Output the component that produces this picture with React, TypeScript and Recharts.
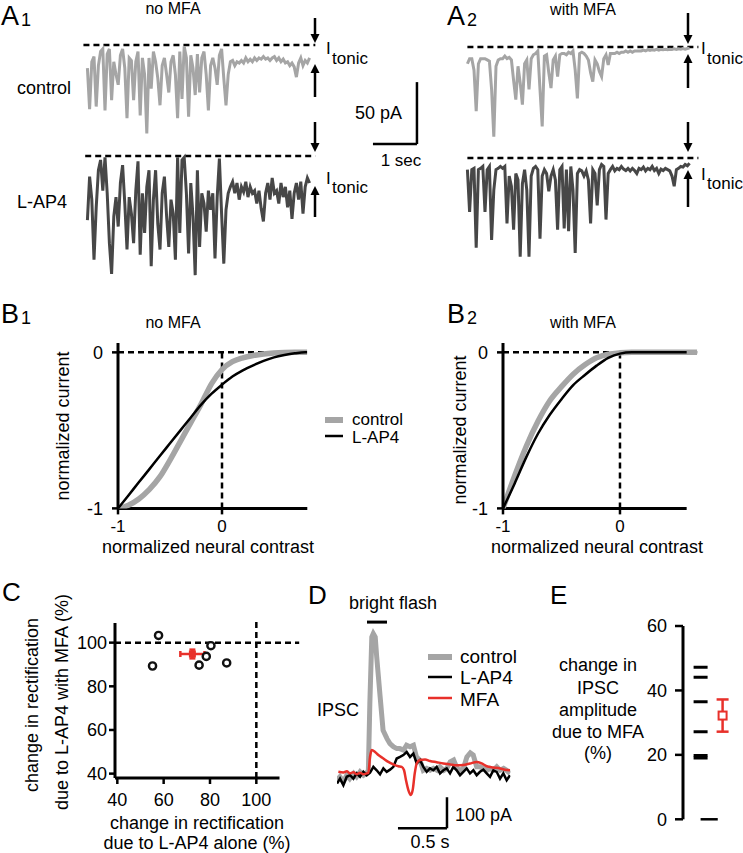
import React from 'react';
import { LineChart, Line, XAxis, YAxis, ReferenceLine, ScatterChart, Scatter, ErrorBar } from 'recharts';

const FONT = '"Liberation Sans", Arial, Helvetica, sans-serif';
const GRAY = '#a5a5a5';
const DARK = '#474747';
const RED = '#e8302a';

// ---------- Panel A: currents (pA, relative to dashed I_tonic line), sampled every 50 ms
const A_DT = 0.05;
const A1_CONTROL = [-18, -50, -13, -9, -48, -16, -5, -3, -51, -7, -3, -43, -13, -23, -31, -8, -3, -18, -57, -10, -12, -43, -13, -5, -55, -10, -23, -69, -10, -34, -5, -13, -26, -47, -16, -10, -23, -37, -13, -8, -23, -57, -5, -42, -1, -10, -56, -8, -18, -39, -7, -37, -10, -5, -23, -51, -16, -10, -18, -31, -8, -3, -26, -47, -23, -13, -12, -16, -13, -14, -12, -14, -10, -13, -11, -13, -10, -12, -10, -11, -9, -11, -10, -12, -10, -9, -12, -10, -13, -11, -14, -13, -16, -14, -17, -25, -14, -10, -16, -12, -14, -10];
const A1_LAP4 = [-50, -16, -34, -81, -40, -11, -3, -27, -1, -29, -68, -92, -47, -32, -55, -21, -7, -37, -73, -32, -45, -68, -27, -4, -77, -29, -60, -24, -11, -86, -34, -11, -53, -73, -29, -16, -47, -71, -34, -45, -81, -1, -60, -3, -1, -29, -76, -21, -47, -93, -11, -71, -29, -37, -59, -27, -42, -29, -80, -32, -2, -45, -84, -42, -29, -24, -20, -29, -21, -34, -24, -28, -20, -32, -24, -29, -27, -37, -27, -41, -51, -29, -21, -34, -17, -29, -27, -37, -21, -32, -24, -40, -27, -49, -29, -21, -34, -20, -45, -24, -17, -21];
const A2_CONTROL = [-13, -9, -9, -18, -50, -13, -9, -9, -9, -10, -11, -33, -70, -15, -10, -9, -9, -7, -9, -8, -10, -26, -41, -15, -28, -45, -13, -10, -33, -9, -6, -5, -3, -33, -62, -7, -6, -20, -32, -10, -7, -23, -6, -5, -5, -6, -4, -5, -3, -18, -40, -5, -4, -5, -7, -10, -20, -27, -10, -13, -19, -23, -9, -6, -14, -5, -5, -5, -4, -5, -4, -4, -3, -4, -3, -4, -3, -3, -3, -3, -2.4, -3, -2, -2.6, -2, -2.4, -1.8, -2.4, -1.8, -2, -1.6, -2, -1.6, -1.8, -1.3, -1.8, -1.3, -1.6, -1.1, -1.6, -1.1, -0.8];
const A2_LAP4 = [-9, -42, -9, -8, -70, -9, -8, -6.5, -42, -9, -6.5, -64, -25, -9, -8, -6.5, -8, -6.5, -51, -14, -22, -56, -12, -17, -77, -20, -9, -25, -77, -14, -8, -6.5, -9, -63, -14, -9, -12, -26, -14, -9, -17, -56, -9, -6.5, -55, -9, -57, -6.5, -25, -74, -12, -9, -10, -14, -10, -17, -51, -9, -12, -37, -9, -5, -6.5, -48, -12, -9, -6.5, -10, -8, -9, -6.5, -8.6, -9.7, -8, -10, -8, -9.7, -12, -8, -9, -7, -10, -8, -9, -6.5, -9.7, -8, -12, -8.6, -9.7, -8, -9, -10, -14, -22, -9, -8, -6.5, -7, -5, -6, -4];

// ---------- Panel B: normalized current vs normalized neural contrast
const B1_X = [-1, -0.9, -0.8, -0.7, -0.6, -0.5, -0.4, -0.3, -0.2, -0.1, 0, 0.1, 0.2, 0.3, 0.4, 0.5, 0.6, 0.7, 0.8, 0.82];
const B1_CONTROL = [-1, -0.98, -0.94, -0.88, -0.8, -0.69, -0.57, -0.45, -0.33, -0.2, -0.11, -0.06, -0.035, -0.02, -0.01, -0.004, -0.001, 0, 0, 0];
const B1_LAP4 = [-1, -0.917, -0.833, -0.75, -0.666, -0.583, -0.5, -0.417, -0.335, -0.265, -0.207, -0.155, -0.115, -0.083, -0.055, -0.032, -0.017, -0.006, 0, 0];
const B2_X = [-1, -0.9, -0.8, -0.7, -0.6, -0.5, -0.4, -0.3, -0.2, -0.1, 0, 0.1, 0.2, 0.3, 0.4, 0.5, 0.57, 0.66];
const B2_CONTROL = [-1, -0.79, -0.6, -0.44, -0.31, -0.22, -0.14, -0.08, -0.035, -0.012, -0.003, 0, 0, 0, 0, 0, 0, 0];
const B2_LAP4 = [-1, -0.84, -0.67, -0.52, -0.4, -0.3, -0.21, -0.145, -0.085, -0.035, -0.008, 0, 0, 0, 0, 0, 0];

// ---------- Panel C: change in rectification (%)
const C_ALONE = [57.8, 55.2, 75.3, 78.4, 80.4, 87.2];
const C_WITH_MFA = [103.3, 89.3, 89.7, 93.7, 98.6, 90.7];
const C_MEAN = { x: 72.4, y: 94.8, ex: 5.2, ey: 2 };

// ---------- Panel D: IPSC traces (time in s, current in pA)
const D_CONTROL_T = [0, 0.03, 0.065, 0.1, 0.13, 0.17, 0.2, 0.235, 0.27, 0.3, 0.32, 0.335, 0.355, 0.37, 0.39, 0.405, 0.44, 0.47, 0.51, 0.54, 0.575, 0.61, 0.64, 0.68, 0.71, 0.745, 0.78, 0.81, 0.845, 0.88, 0.915, 0.95, 0.985, 1.02, 1.05, 1.09, 1.12, 1.155, 1.19, 1.225, 1.255, 1.29, 1.325, 1.36, 1.39, 1.425, 1.46, 1.495, 1.53, 1.56, 1.595, 1.63, 1.665, 1.7, 1.73, 1.765];
const D_CONTROL = [0, 11, -5, 16, 5, 22, 11, 27, 16, 22, 32, 247, 462, 473, 462, 398, 269, 161, 134, 118, 108, 102, 102, 97, 113, 108, 113, 75, 65, 32, 38, 32, 38, 32, 43, 32, 38, 59, 65, 38, 32, 38, 75, 88, 81, 43, 43, 38, 32, 38, 32, 43, 32, 38, 32, 22];
const D_LAP4_T = [0, 0.031, 0.065, 0.099, 0.133, 0.167, 0.201, 0.235, 0.269, 0.303, 0.337, 0.371, 0.405, 0.439, 0.473, 0.507, 0.541, 0.575, 0.609, 0.643, 0.677, 0.711, 0.745, 0.779, 0.813, 0.847, 0.881, 0.915, 0.949, 0.983, 1.017, 1.051, 1.085, 1.119, 1.153, 1.187, 1.221, 1.255, 1.289, 1.323, 1.357, 1.391, 1.425, 1.459, 1.493, 1.527, 1.561, 1.595, 1.629, 1.663, 1.697, 1.731, 1.765];
const D_LAP4 = [-11, 5, -16, 11, 16, 5, 22, 11, 27, 16, 24, 43, 32, 19, 38, 27, 34, 43, 70, 75, 81, 91, 75, 86, 54, 65, 43, 27, 38, 32, 43, 22, 32, 38, 22, 43, 32, 16, 27, 38, 22, 32, 16, 27, 34, 22, 11, 32, 27, 5, 22, 0, 16];
const D_MFA_T = [0.014, 0.065, 0.1, 0.133, 0.167, 0.2, 0.235, 0.27, 0.303, 0.32, 0.337, 0.354, 0.388, 0.422, 0.473, 0.524, 0.575, 0.626, 0.66, 0.684, 0.704, 0.728, 0.752, 0.772, 0.793, 0.813, 0.847, 0.898, 0.949, 1.017, 1.085, 1.153, 1.221, 1.289, 1.357, 1.425, 1.476, 1.527, 1.595, 1.663, 1.714, 1.765];
const D_MFA = [27, 25, 29, 22, 26, 19, 24, 19, 22, 24, 75, 97, 91, 81, 70, 59, 51, 45, 43, 32, 0, -32, -48, -32, 22, 54, 65, 67, 62, 58, 54, 51, 48, 49, 54, 59, 54, 45, 41, 38, 34, 32];

// ---------- Panel E: change in IPSC amplitude due to MFA (%)
const E_CELLS = [47.2, 44.1, 36.5, 27.2, 19.8, 19.0];
const E_MEAN = { y: 32.2, e: 5 };

// ---------- helpers
function frame(x: number, y: number, w: number, h: number, pad: any = {}, yw = 0, xh = 0) {
  const l = pad.l ?? 0, r = pad.r ?? 0, t = pad.t ?? 0, b = pad.b ?? 0;
  return { left: x - yw - l, top: y - t, width: w + yw + l + r, height: h + xh + t + b, margin: { left: l, right: r, top: t, bottom: b } };
}

function Txt({ x, y, s = 18, a = 'start', children }: any) {
  const tx = a === 'start' ? '0%' : a === 'middle' ? '-50%' : '-100%';
  return (
    <div style={{ position: 'absolute', left: x, top: y, fontSize: s, lineHeight: 1, whiteSpace: 'nowrap', fontFamily: FONT, color: '#000',
      transform: `translate(${tx},-50%)` }}>{children}</div>
  );
}

function RotTxt({ x, y, s = 18, children }: any) {
  return (
    <div style={{ position: 'absolute', left: x, top: y, fontSize: s, lineHeight: 1, whiteSpace: 'nowrap', fontFamily: FONT, color: '#000',
      transform: 'translate(-50%,-50%) rotate(-90deg)' }}>{children}</div>
  );
}

const dash = { stroke: '#000', strokeWidth: 2.5, strokeDasharray: '6 4' };
const solid = { stroke: '#000', strokeWidth: 2.5 };
const tickFont = { fill: '#000', fontSize: 18, fontFamily: FONT };
const axisStyle = { stroke: '#000', strokeWidth: 3 };

function Trace({ f, values, color, domX, domY, children }: any) {
  const data = values.map((v: number, i: number) => ({ t: Math.round(i * A_DT * 1000) / 1000, v }));
  return (
    <div style={{ position: 'absolute', left: f.left, top: f.top }}>
      <LineChart width={f.width} height={f.height} margin={f.margin} data={data}>
        <XAxis dataKey="t" type="number" domain={domX} hide allowDataOverflow />
        <YAxis type="number" domain={domY} hide allowDataOverflow />
        {children}
        <Line dataKey="v" stroke={color} strokeWidth={3} dot={false} type="linear" isAnimationActive={false} />
      </LineChart>
    </div>
  );
}

function BPanel({ f, domX, xs, control, lap4, axisEnd, dashEnd }: any) {
  const cData = control.map((y: number, i: number) => ({ x: xs[i], y }));
  const lData = lap4.map((y: number, i: number) => ({ x: xs[i], y }));
  return (
    <div style={{ position: 'absolute', left: f.left, top: f.top }}>
      <LineChart width={f.width} height={f.height} margin={f.margin}>
        <XAxis dataKey="x" type="number" domain={domX} ticks={[-1, 0]} allowDataOverflow height={30} tickSize={6} tickMargin={6}
          axisLine={false} tickLine={{ stroke: '#000', strokeWidth: 2.5 }} tick={{ ...tickFont, fontSize: 17 }} />
        <YAxis type="number" domain={[-1, 0.06]} ticks={[-1, 0]} allowDataOverflow width={36} tickSize={6} tickMargin={9}
          axisLine={axisStyle} tickLine={{ stroke: '#000', strokeWidth: 2.5 }} tick={tickFont} />
        <ReferenceLine segment={[{ x: domX[0], y: -1 }, { x: axisEnd, y: -1 }]} stroke="#000" strokeWidth={3} ifOverflow="visible" />
        <ReferenceLine segment={[{ x: -1, y: 0 }, { x: dashEnd, y: 0 }]} {...dash} ifOverflow="visible" />
        <ReferenceLine segment={[{ x: 0, y: -1 }, { x: 0, y: 0 }]} {...dash} ifOverflow="visible" />
        <Line data={cData} dataKey="y" stroke={GRAY} strokeWidth={5.5} dot={false} type="monotone" isAnimationActive={false} />
        <Line data={lData} dataKey="y" stroke="#000" strokeWidth={2.5} dot={false} type="monotone" isAnimationActive={false} />
      </LineChart>
    </div>
  );
}

const openCircle = (p: any) => <circle cx={p.cx} cy={p.cy} r={3.6} fill="#fff" stroke="#111" strokeWidth={2.4} />;
const redDot = (p: any) => <rect x={p.cx - 3.5} y={p.cy - 3.5} width={7} height={7} fill={RED} />;
const hDash = (p: any) => <line x1={p.cx - 7} x2={p.cx + 7} y1={p.cy} y2={p.cy} stroke="#000" strokeWidth={3} />;
const openSquare = (p: any) => <rect x={p.cx - 4} y={p.cy - 4} width={8} height={8} fill="#fff" stroke={RED} strokeWidth={2} />;

function Arrow({ x, from, to }: { x: number; from: number; to: number }) {
  const dir = to > from ? 1 : -1;
  const base = to - dir * 9;
  return (
    <g>
      <line x1={x} x2={x} y1={from} y2={base} stroke="#000" strokeWidth={2.5} />
      <polygon points={`${x - 4.5},${base} ${x + 4.5},${base} ${x},${to}`} fill="#000" />
    </g>
  );
}

export default function App() {
  const fA1c = frame(82.6, 39.88, 338.8, 110.08);
  const fA1l = frame(82.6, 150.88, 237.6, 133.12);
  const fA2c = frame(462.6, 42.18, 237.6, 101.12);
  const fA2l = frame(462.6, 153.18, 237.6, 107.52);
  const fB1 = frame(118, 342.6, 189.3, 165.4, { l: 2, r: 4, t: 3, b: 2 }, 36, 30);
  const fB2 = frame(503, 342.6, 194.2, 165.4, { l: 2, r: 4, t: 3, b: 2 }, 36, 30);
  const fC = frame(114.7, 622.6, 164.5, 155, { l: 4, r: 26, t: 8, b: 4 }, 45, 34);
  const fD = frame(337, 618.8, 173.5, 213.9, { l: 4, r: 4, t: 4, b: 4 });
  const fE = frame(682.7, 626, 57.2, 193.3, { l: 4, r: 2, t: 12, b: 12 }, 40, 0);

  const cData = C_ALONE.map((x, i) => ({ x, y: C_WITH_MFA[i] }));
  const dControl = D_CONTROL.map((v, i) => ({ t: D_CONTROL_T[i], v }));
  const dLap4 = D_LAP4.map((v, i) => ({ t: D_LAP4_T[i], v }));
  const dMfa = D_MFA.map((v, i) => ({ t: D_MFA_T[i], v }));
  const eCells = E_CELLS.map((y) => ({ x: 1, y }));

  return (
    <div style={{ position: 'absolute', left: 0, top: 0, width: 743, height: 853, background: '#fff', overflow: 'hidden', fontFamily: FONT }}>
      {/* A1 */}
      <Trace f={fA1c} values={A1_CONTROL} color={GRAY} domX={[-0.1, 7.6]} domY={[-82, 4]}>
        <ReferenceLine segment={[{ x: -0.09, y: 0 }, { x: 5.18, y: 0 }]} {...dash} />
        <ReferenceLine segment={[{ x: 7.49, y: -28.9 }, { x: 7.49, y: -77.3 }]} {...solid} />
        <ReferenceLine segment={[{ x: 6.49, y: -77.3 }, { x: 7.49, y: -77.3 }]} {...solid} />
      </Trace>
      <Trace f={fA1l} values={A1_LAP4} color={DARK} domX={[-0.1, 5.3]} domY={[-100, 4]}>
        <ReferenceLine segment={[{ x: -0.05, y: 0 }, { x: 5.18, y: 0 }]} {...dash} />
      </Trace>
      {/* A2 */}
      <Trace f={fA2c} values={A2_CONTROL} color={GRAY} domX={[-0.1, 5.3]} domY={[-75, 4]}>
        <ReferenceLine segment={[{ x: 0, y: 0 }, { x: 5.25, y: 0 }]} {...dash} />
      </Trace>
      <Trace f={fA2l} values={A2_LAP4} color={DARK} domX={[-0.1, 5.3]} domY={[-80, 4]}>
        <ReferenceLine segment={[{ x: 0, y: 0 }, { x: 5.25, y: 0 }]} {...dash} />
      </Trace>

      {/* B */}
      <BPanel f={fB1} domX={[-1, 0.82]} xs={B1_X} control={B1_CONTROL} lap4={B1_LAP4} axisEnd={0.82} dashEnd={0.8} />
      <BPanel f={fB2} domX={[-1, 0.66]} xs={B2_X} control={B2_CONTROL} lap4={B2_LAP4} axisEnd={0.57} dashEnd={0.66} />

      {/* C */}
      <div style={{ position: 'absolute', left: fC.left, top: fC.top }}>
        <ScatterChart width={fC.width} height={fC.height} margin={fC.margin}>
          <XAxis type="number" dataKey="x" domain={[39, 110]} ticks={[40, 60, 80, 100]} allowDataOverflow height={34} tickSize={6} tickMargin={9}
            axisLine={axisStyle} tickLine={{ stroke: '#000', strokeWidth: 2.5 }} tick={tickFont} />
          <YAxis type="number" dataKey="y" domain={[38, 109]} ticks={[40, 60, 80, 100]} allowDataOverflow width={45} tickSize={6} tickMargin={2}
            axisLine={axisStyle} tickLine={{ stroke: '#000', strokeWidth: 2.5 }} tick={tickFont} />
          <ReferenceLine segment={[{ x: 39, y: 100 }, { x: 118.5, y: 100 }]} {...dash} ifOverflow="visible" />
          <ReferenceLine segment={[{ x: 100, y: 38 }, { x: 100, y: 110.5 }]} {...dash} ifOverflow="visible" />
          <Scatter data={cData} shape={openCircle} isAnimationActive={false} />
          <Scatter data={[C_MEAN]} shape={redDot} isAnimationActive={false}>
            <ErrorBar dataKey="ex" direction="x" width={3} stroke={RED} strokeWidth={2.5} />
            <ErrorBar dataKey="ey" direction="y" width={3} stroke={RED} strokeWidth={2.5} />
          </Scatter>
        </ScatterChart>
      </div>

      {/* D */}
      <div style={{ position: 'absolute', left: fD.left, top: fD.top }}>
        <LineChart width={fD.width} height={fD.height} margin={fD.margin}>
          <XAxis dataKey="t" type="number" domain={[0, 1.77]} hide allowDataOverflow />
          <YAxis type="number" domain={[-170, 520]} hide allowDataOverflow />
          <Line data={dControl} dataKey="v" stroke={GRAY} strokeWidth={5} dot={false} type="linear" isAnimationActive={false} />
          <Line data={dLap4} dataKey="v" stroke="#000" strokeWidth={2.5} dot={false} type="linear" isAnimationActive={false} />
          <Line data={dMfa} dataKey="v" stroke={RED} strokeWidth={2.5} dot={false} type="monotone" isAnimationActive={false} />
          <ReferenceLine segment={[{ x: 0.306, y: 510 }, { x: 0.51, y: 510 }]} stroke="#000" strokeWidth={3} />
          <ReferenceLine segment={[{ x: 1.122, y: -55 }, { x: 1.122, y: -155 }]} {...solid} />
          <ReferenceLine segment={[{ x: 0.622, y: -155 }, { x: 1.122, y: -155 }]} {...solid} />
        </LineChart>
      </div>

      {/* E */}
      <div style={{ position: 'absolute', left: fE.left, top: fE.top }}>
        <ScatterChart width={fE.width} height={fE.height} margin={fE.margin}>
          <XAxis type="number" dataKey="x" domain={[0.2, 2.8]} hide allowDataOverflow />
          <YAxis type="number" dataKey="y" domain={[0, 60]} ticks={[0, 20, 40, 60]} allowDataOverflow width={40} tickSize={8} tickMargin={8}
            axisLine={axisStyle} tickLine={{ stroke: '#000', strokeWidth: 2.5 }} tick={tickFont} />
          <ReferenceLine segment={[{ x: 1, y: 0 }, { x: 1.78, y: 0 }]} stroke="#000" strokeWidth={2.5} />
          <Scatter data={eCells} shape={hDash} isAnimationActive={false} />
          <Scatter data={[{ x: 2, y: E_MEAN.y, e: E_MEAN.e }]} shape={openSquare} isAnimationActive={false}>
            <ErrorBar dataKey="e" direction="y" width={6} stroke={RED} strokeWidth={2.5} />
          </Scatter>
        </ScatterChart>
      </div>

      {/* decorations: arrows and legend keys */}
      <svg width={743} height={853} style={{ position: 'absolute', left: 0, top: 0, pointerEvents: 'none' }}>
        <Arrow x={315} from={18} to={43} />
        <Arrow x={315} from={97} to={64} />
        <Arrow x={315} from={122} to={152} />
        <Arrow x={315} from={217} to={186} />
        <Arrow x={688} from={13} to={44} />
        <Arrow x={688} from={88} to={54} />
        <Arrow x={688} from={122} to={152} />
        <Arrow x={688} from={207} to={170} />
        <line x1={325} x2={343} y1={420} y2={420} stroke={GRAY} strokeWidth={6} />
        <line x1={325} x2={343} y1={436} y2={436} stroke="#000" strokeWidth={2.5} />
        <line x1={428} x2={452} y1={657} y2={657} stroke={GRAY} strokeWidth={6} />
        <line x1={428} x2={452} y1={677} y2={677} stroke="#000" strokeWidth={2.5} />
        <line x1={428} x2={452} y1={698} y2={698} stroke={RED} strokeWidth={2.5} />
      </svg>

      {/* texts A */}
      <Txt x={1} y={16} s={27}>A</Txt>
      <Txt x={21} y={20}>1</Txt>
      <Txt x={173} y={9} s={16} a="middle">no MFA</Txt>
      <Txt x={447} y={16} s={27}>A</Txt>
      <Txt x={467} y={20}>2</Txt>
      <Txt x={583} y={10} s={16} a="middle">with MFA</Txt>
      <Txt x={17} y={88}>control</Txt>
      <Txt x={17} y={202}>L-AP4</Txt>
      <Txt x={326} y={47.5} s={17}>I</Txt>
      <Txt x={332} y={57.5} s={17}>tonic</Txt>
      <Txt x={326} y={177.5} s={17}>I</Txt>
      <Txt x={332} y={187} s={17}>tonic</Txt>
      <Txt x={701} y={47.5} s={17}>I</Txt>
      <Txt x={707} y={57.5} s={17}>tonic</Txt>
      <Txt x={701} y={173.5} s={17}>I</Txt>
      <Txt x={707} y={183} s={17}>tonic</Txt>
      <Txt x={355} y={113}>50 pA</Txt>
      <Txt x={401} y={160} s={17} a="middle">1 sec</Txt>

      {/* texts B */}
      <Txt x={1} y={314} s={27}>B</Txt>
      <Txt x={21} y={318}>1</Txt>
      <Txt x={173} y={323} s={16} a="middle">no MFA</Txt>
      <Txt x={447} y={314} s={27}>B</Txt>
      <Txt x={467} y={318}>2</Txt>
      <Txt x={583} y={323} s={16} a="middle">with MFA</Txt>
      <RotTxt x={63} y={426}>normalized current</RotTxt>
      <RotTxt x={460} y={430}>normalized current</RotTxt>
      <Txt x={208} y={547} a="middle">normalized neural contrast</Txt>
      <Txt x={597} y={547} a="middle">normalized neural contrast</Txt>
      <Txt x={352} y={419} s={17}>control</Txt>
      <Txt x={352} y={437} s={17}>L-AP4</Txt>

      {/* texts C */}
      <Txt x={2} y={592} s={26}>C</Txt>
      <RotTxt x={32} y={705}>change in rectification</RotTxt>
      <RotTxt x={62} y={702}>due to L-AP4  with MFA (%)</RotTxt>
      <Txt x={197} y={823} a="middle">change in rectification</Txt>
      <Txt x={197} y={843} a="middle">due to L-AP4 alone (%)</Txt>

      {/* texts D */}
      <Txt x={308} y={595} s={26}>D</Txt>
      <Txt x={393} y={603} a="middle">bright flash</Txt>
      <Txt x={460} y={656} s={19}>control</Txt>
      <Txt x={460} y={677} s={19}>L-AP4</Txt>
      <Txt x={460} y={699} s={19}>MFA</Txt>
      <Txt x={317} y={710}>IPSC</Txt>
      <Txt x={455} y={815}>100 pA</Txt>
      <Txt x={430} y={842} a="middle">0.5 s</Txt>

      {/* texts E */}
      <Txt x={550} y={595} s={26}>E</Txt>
      <Txt x={598} y={665} a="middle">change in</Txt>
      <Txt x={598} y={688} a="middle">IPSC</Txt>
      <Txt x={598} y={710} a="middle">amplitude</Txt>
      <Txt x={598} y={732} a="middle">due to MFA</Txt>
      <Txt x={598} y={753} a="middle">(%)</Txt>
    </div>
  );
}
